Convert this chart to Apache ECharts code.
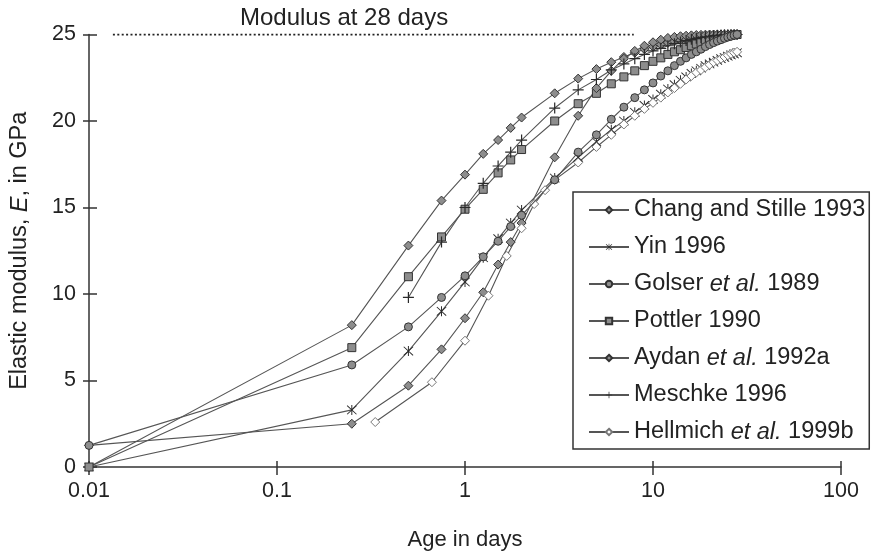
<!DOCTYPE html>
<html>
<head>
<meta charset="utf-8">
<script src="https://cdn.jsdelivr.net/npm/echarts@6/dist/echarts.min.js"></script>
<style>
html,body{margin:0;padding:0;background:#fff;}
#chart{width:873px;height:556px;}
</style>
</head>
<body>
<div id="chart"></div>
<script>
// ---- data ----
const days = [0.01, 0.25, 0.5, 0.75, 1, 1.25, 1.5, 1.75, 2,
  3, 4, 5, 6, 7, 8, 9, 10, 11, 12, 13, 14, 15, 16, 17, 18, 19, 20, 21, 22, 23, 24, 25, 26, 27, 28];
const changStille = [0, 8.2, 12.8, 15.4, 16.9, 18.1, 18.9, 19.6, 20.2,
  21.6, 22.45, 23.0, 23.4, 23.7, 23.95, 24.15, 24.3, 24.42, 24.52, 24.6, 24.67, 24.73, 24.78, 24.82, 24.86, 24.89, 24.91, 24.93, 24.95, 24.96, 24.97, 24.98, 24.99, 25.0, 25.0];
const yin = [0, 3.3, 6.7, 9.0, 10.7, 12.1, 13.2, 14.1, 14.85,
  16.7, 17.9, 18.8, 19.5, 20.0, 20.5, 20.9, 21.25, 21.55, 21.85, 22.1, 22.35, 22.55, 22.75, 22.9, 23.05, 23.2, 23.3, 23.4, 23.5, 23.6, 23.67, 23.75, 23.82, 23.88, 23.94];
const golser = [1.25, 5.9, 8.1, 9.8, 11.05, 12.15, 13.05, 13.9, 14.55,
  16.6, 18.2, 19.2, 20.1, 20.8, 21.35, 21.8, 22.2, 22.6, 22.9, 23.2, 23.45, 23.65, 23.85, 24.0, 24.15, 24.3, 24.42, 24.53, 24.62, 24.7, 24.78, 24.85, 24.9, 24.96, 25.0];
const pottler = [0, 6.9, 11.0, 13.3, 14.9, 16.05, 17.0, 17.75, 18.35,
  20.0, 21.0, 21.6, 22.15, 22.55, 22.9, 23.2, 23.45, 23.65, 23.85, 24.0, 24.12, 24.25, 24.35, 24.45, 24.52, 24.6, 24.66, 24.72, 24.78, 24.83, 24.87, 24.91, 24.95, 24.98, 25.0];
const aydan = [1.25, 2.5, 4.7, 6.8, 8.6, 10.1, 11.7, 13.0, 14.1,
  17.9, 20.3, 21.9, 22.9, 23.6, 24.05, 24.35, 24.55, 24.7, 24.8, 24.86, 24.9, 24.93, 24.95, 24.97, 24.98, 24.99, 25.0, 25.0, 25.0, 25.0, 25.0, 25.0, 25.0, 25.0, 25.0];
const meschke = [null, null, 9.8, 13.0, 15.0, 16.4, 17.4, 18.2, 18.9,
  20.75, 21.8, 22.4, 22.95, 23.3, 23.6, 23.85, 24.05, 24.2, 24.35, 24.47, 24.57, 24.65, 24.72, 24.78, 24.83, 24.87, 24.9, 24.93, 24.95, 24.97, 24.98, 24.99, 25.0, 25.0, 25.0];
const hellmichDays = [0.333, 0.667, 1, 1.333, 1.667, 2, 2.333, 2.667, 3,
  4, 5, 6, 7, 8, 9, 10, 11, 12, 13, 14, 15, 16, 17, 18, 19, 20, 21, 22, 23, 24, 25, 26, 27, 28];
const hellmich = [2.6, 4.9, 7.3, 9.9, 12.2, 13.8, 15.2, 16.0, 16.6,
  17.6, 18.5, 19.2, 19.8, 20.3, 20.7, 21.05, 21.35, 21.65, 21.9, 22.15, 22.4, 22.6, 22.8, 22.95, 23.1, 23.25, 23.4, 23.5, 23.6, 23.7, 23.8, 23.88, 23.95, 24.0];
const refDays = [0.0134, 7.9];
const refValue = [25, 25];
const refLabel = 'Modulus at 28 days';
const seriesNames = ['Chang and Stille 1993', 'Yin 1996', 'Golser et al. 1989', 'Pottler 1990',
  'Aydan et al. 1992a', 'Meschke 1996', 'Hellmich et al. 1999b'];
const xTicks = [0.01, 0.1, 1, 10, 100];
const yTicks = [0, 5, 10, 15, 20, 25];

// ---- chart ----
const FONT = '"Liberation Sans", Arial, Helvetica, sans-serif';
const pair = (xs, ys) => xs.map((x, i) => ys[i] == null ? null : [x, ys[i]]).filter(p => p);

const PLUS = 'path://M-1,-0.11 L1,-0.11 L1,0.11 L-1,0.11 Z M-0.11,-1 L0.11,-1 L0.11,1 L-0.11,1 Z';
const STAR = 'path://M-0.09,-1 L0.09,-1 L0.09,1 L-0.09,1 Z M-0.8,-0.92 L0.92,0.8 L0.8,0.92 L-0.92,-0.8 Z M0.8,-0.92 L0.92,-0.8 L-0.8,0.92 L-0.92,0.8 Z';

const lineStyle = {color: '#555', width: 1.1};
const grayItem = {color: '#8d8d8d', borderColor: '#333', borderWidth: 1};
const darkItem = {color: '#2a2a2a', borderWidth: 0};

function mk(name, xs, ys, symbol, size, item, z) {
  return {
    name, type: 'line', data: pair(xs, ys), symbol, symbolSize: size,
    showAllSymbol: true, lineStyle, itemStyle: item, z: z || 2,
    emphasis: {disabled: true}
  };
}

const series = [
  mk(seriesNames[0], days, changStille, 'diamond', 9, grayItem),
  mk(seriesNames[1], days, yin, STAR, 10, darkItem),
  mk(seriesNames[2], days, golser, 'circle', 8, grayItem, 4),
  mk(seriesNames[3], days, pottler, 'rect', 8, grayItem),
  mk(seriesNames[4], days, aydan, 'diamond', 9, grayItem),
  mk(seriesNames[5], days, meschke, PLUS, 11, darkItem),
  mk(seriesNames[6], hellmichDays, hellmich, 'diamond', 9, {color: '#fff', borderColor: '#777', borderWidth: 1}),
  {
    name: refLabel, type: 'line', data: pair(refDays, refValue), symbol: 'none',
    lineStyle: {color: '#222', width: 2, type: [2, 2.4]}, silent: true
  }
];

const axisCommon = {
  axisLine: {lineStyle: {color: '#333', width: 1.5}},
  splitLine: {show: false}
};

const chart = echarts.init(document.getElementById('chart'), null, {renderer: 'canvas'});
chart.setOption({
  animation: false,
  backgroundColor: '#fff',
  textStyle: {fontFamily: FONT},
  grid: {left: 86, right: 32, top: 34.5, bottom: 87, containLabel: false},
  xAxis: [
    Object.assign({
      type: 'log', logBase: 10, min: xTicks[0], max: xTicks[xTicks.length - 1],
      axisTick: {length: 8, lineStyle: {color: '#333', width: 1.5}},
      axisLabel: {fontSize: 21.5, color: '#222', margin: 13, fontFamily: FONT,
        formatter: v => String(+(+v).toPrecision(2))},
      name: 'Age in days', nameLocation: 'middle', nameGap: 62,
      nameTextStyle: {fontSize: 22, color: '#222', fontFamily: FONT}
    }, axisCommon),
    {
      type: 'log', logBase: 10, min: xTicks[0], max: xTicks[xTicks.length - 1], position: 'bottom',
      axisLine: {show: false}, axisLabel: {show: false}, splitLine: {show: false},
      axisTick: {inside: true, length: 6, lineStyle: {color: '#333', width: 1.5}}
    }
  ],
  yAxis: [
    Object.assign({
      type: 'value', min: yTicks[0], max: yTicks[yTicks.length - 1], interval: 5,
      axisTick: {length: 6, lineStyle: {color: '#333', width: 1.5}},
      axisLabel: {fontSize: 21.5, color: '#222', margin: 13, fontFamily: FONT},
      name: 'Elastic modulus, {i|E}, in GPa', nameLocation: 'middle', nameGap: 57,
      nameTextStyle: {fontSize: 23.5, color: '#222', fontFamily: FONT,
        rich: {i: {fontStyle: 'italic', fontSize: 23.5, color: '#222', fontFamily: FONT}}}
    }, axisCommon),
    {
      type: 'value', min: yTicks[0], max: yTicks[yTicks.length - 1], interval: 5, position: 'left',
      axisLine: {show: false}, axisLabel: {show: false}, splitLine: {show: false},
      axisTick: {inside: true, length: 8, lineStyle: {color: '#333', width: 1.5}}
    }
  ],
  legend: {
    data: seriesNames, orient: 'vertical', left: 573, top: 192,
    padding: [6, 4, 5, 15], itemGap: 13, itemWidth: 40, itemHeight: 8,
    borderColor: '#333', borderWidth: 1.5, backgroundColor: '#fff',
    selectedMode: false,
    formatter: n => n.replace('et al.', '{i|et al.}'),
    textStyle: {fontSize: 23.5, lineHeight: 24, color: '#222', fontFamily: FONT,
      rich: {i: {fontStyle: 'italic', fontSize: 23.5, lineHeight: 24, color: '#222', fontFamily: FONT}}}
  },
  graphic: [{
    type: 'text', left: 240, top: 6,
    style: {text: refLabel, fontSize: 24, fill: '#222', fontFamily: FONT}
  }],
  series
});
</script>
</body>
</html>
